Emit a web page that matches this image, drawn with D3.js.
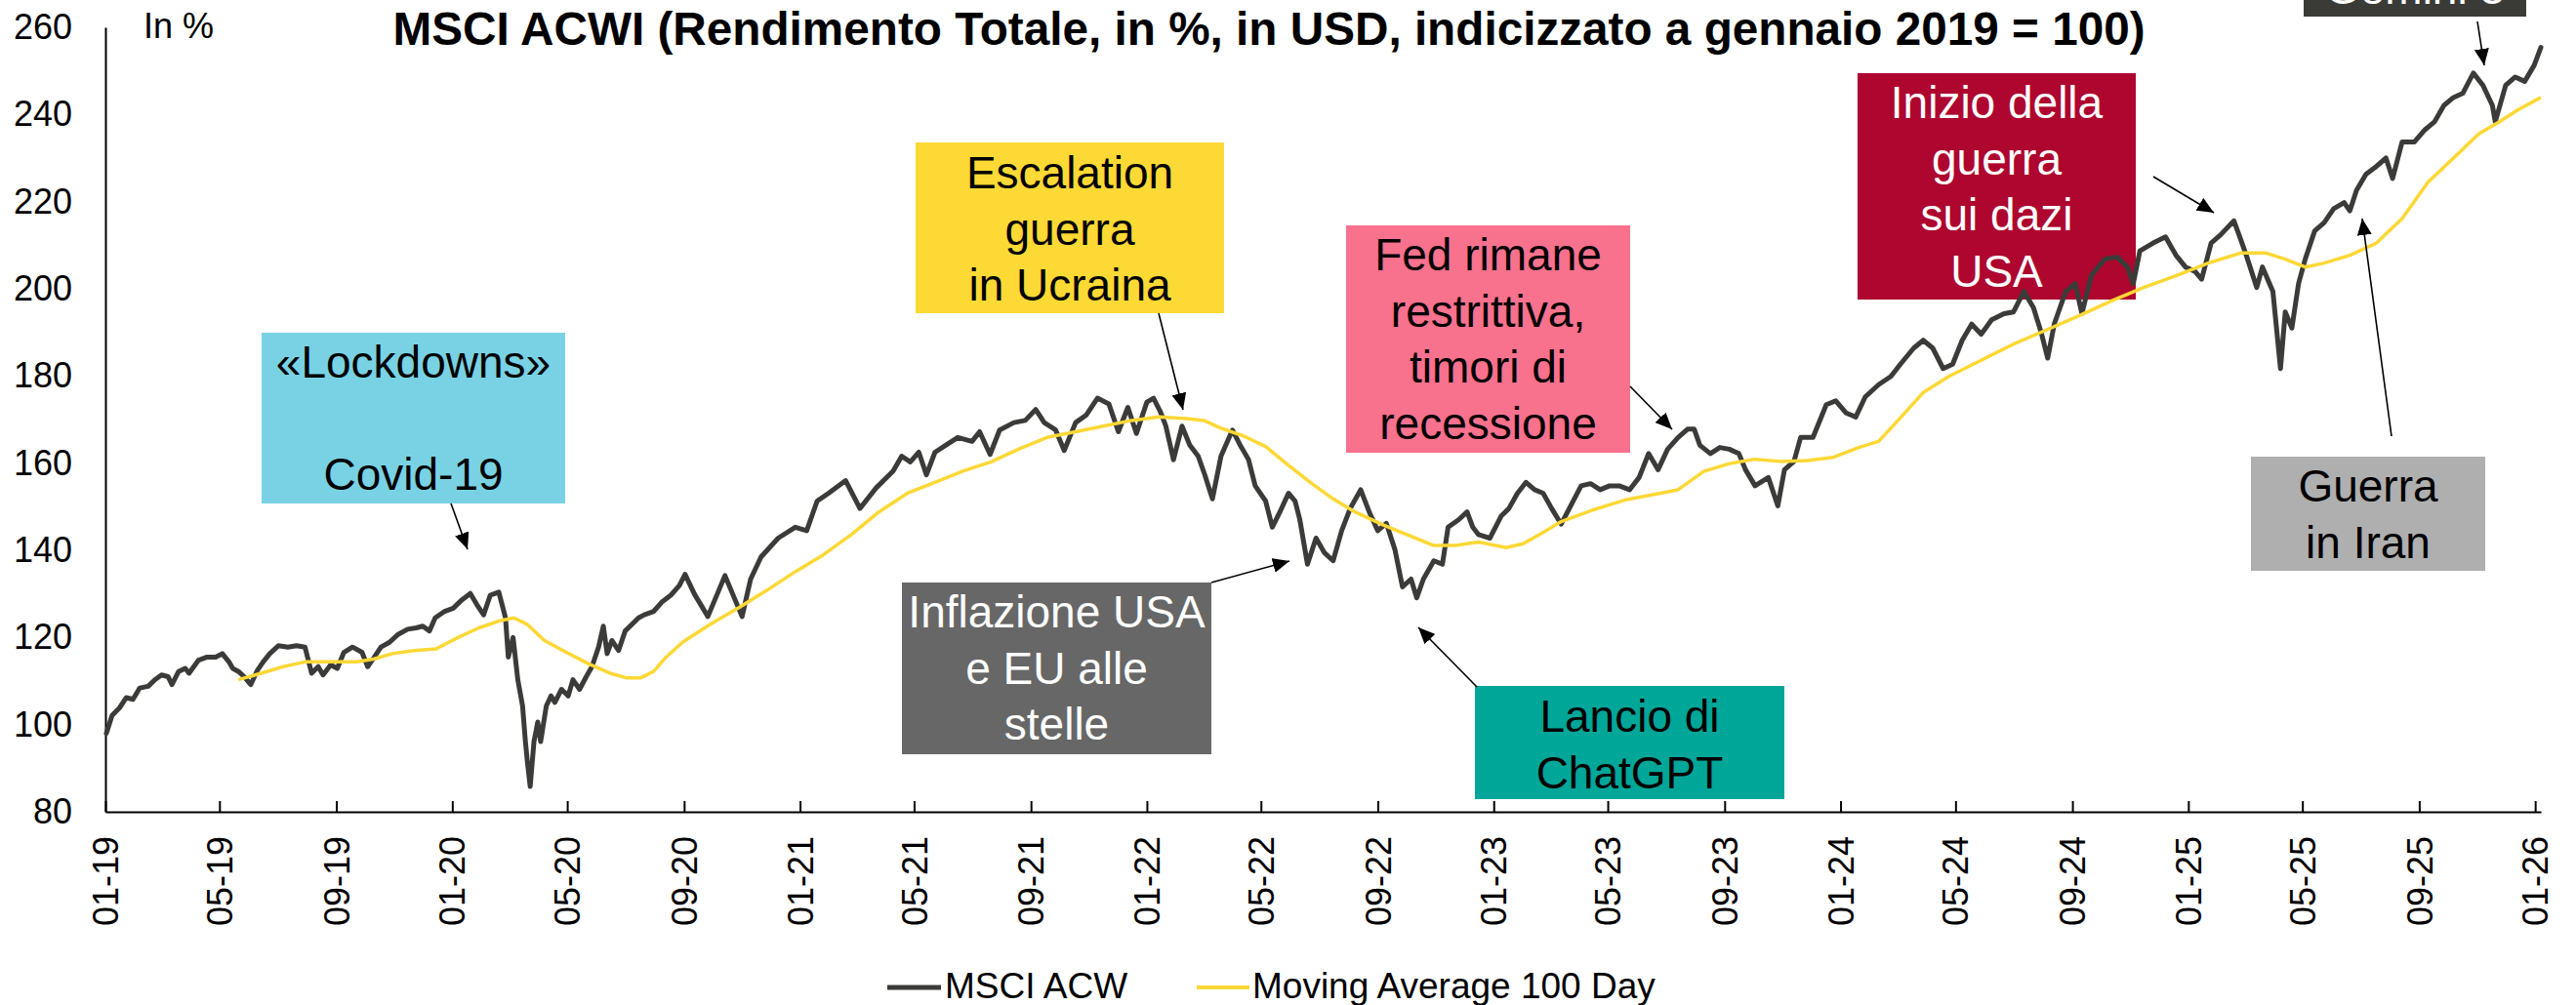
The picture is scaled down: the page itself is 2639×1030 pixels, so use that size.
<!DOCTYPE html>
<html>
<head>
<meta charset="utf-8">
<script src="https://cdn.jsdelivr.net/npm/d3@7"></script>
<style>
  html, body { margin: 0; padding: 0; background: #fff; }
  svg { display: block; font-family: "Liberation Sans", Arial, sans-serif; }
</style>
</head>
<body>
<svg id="chart" width="2639" height="1030"></svg>
<script>
// MSCI ACWI total return, USD, Jan 2019 = 100
const acwi2019 = [["01-02",98.0],["01-08",102.1],["01-16",103.9],["01-23",106.2],["01-30",105.8],["02-06",108.4],["02-15",108.8],["02-22",110.3],["03-01",111.4],["03-08",111.0],["03-12",109.2],["03-19",112.2],["03-26",112.9],["03-30",111.8],["04-09",114.8],["04-18",115.5],["04-27",115.5],["05-04",116.3],["05-11",114.4],["05-15",112.9],["05-21",112.2],["05-27",111.0],["06-03",109.2],["06-10",112.5],["06-16",114.4],["06-23",116.3],["07-02",118.1],["07-12",117.8],["07-21",118.1],["07-30",117.8],["08-06",111.8],["08-13",113.3],["08-18",111.4],["08-26",113.7],["09-02",112.9],["09-09",116.6],["09-18",117.8],["09-28",116.6],["10-04",113.3],["10-11",115.5],["10-18",117.8],["10-27",118.9],["11-05",120.7],["11-15",121.9],["11-24",122.2],["12-01",122.6],["12-08",121.5],["12-14",124.5],["12-24",126.0]];
const acwi2020 = [["01-02",126.7],["01-11",128.6],["01-20",130.1],["01-27",127.5],["02-03",125.2],["02-10",129.7],["02-19",130.4],["02-26",124.5],["02-29",115.5],["03-05",120.0],["03-10",110.3],["03-15",104.3],["03-18",96.1],["03-20",91.6],["03-23",85.8],["03-27",96.1],["03-31",100.6],["04-03",96.1],["04-09",104.3],["04-14",106.6],["04-18",105.1],["04-25",108.1],["05-02",106.6],["05-07",110.3],["05-14",108.1],["05-21",111.0],["05-27",113.3],["06-03",117.8],["06-08",122.6],["06-12",116.3],["06-17",119.3],["06-24",117.0],["07-01",121.5],["07-08",123.0],["07-15",124.5],["07-21",125.2],["07-31",126.0],["08-09",128.2],["08-18",129.7],["08-27",131.9],["09-02",134.5],["09-12",129.9],["09-26",124.8],["10-14",134.2],["11-01",124.8],["11-10",133.4],["11-21",138.5],["12-09",142.8],["12-27",145.3]];
const acwi2021 = [["01-08",144.5],["01-19",151.3],["01-31",153.1],["02-18",156.0],["03-05",149.6],["03-22",154.3],["04-09",158.2],["04-18",161.6],["04-27",160.3],["05-06",162.5],["05-14",157.3],["05-23",162.5],["06-04",164.2],["06-16",165.9],["07-01",165.0],["07-09",167.2],["07-20",162.0],["07-30",167.6],["08-14",169.3],["08-26",169.8],["09-06",172.3],["09-15",169.3],["09-27",167.6],["10-06",162.9],["10-18",169.3],["10-29",171.0],["11-10",174.9],["11-22",173.6],["12-02",167.2],["12-12",172.8],["12-21",166.8]];
const acwi2022 = [["01-01",174.0],["01-08",174.9],["01-15",171.9],["01-21",168.5],["01-29",160.8],["02-07",168.5],["02-15",164.2],["02-24",161.6],["03-03",157.3],["03-11",151.8],["03-20",161.6],["04-01",167.6],["04-09",164.2],["04-18",160.8],["04-25",154.8],["05-06",151.3],["05-13",145.3],["05-21",148.8],["05-30",153.1],["06-06",151.3],["06-11",147.0],["06-19",136.8],["06-28",142.8],["07-07",139.4],["07-16",137.6],["07-25",144.5],["08-03",149.6],["08-14",153.9],["08-23",148.8],["09-01",144.5],["09-10",146.2],["09-19",140.2],["09-27",131.6],["10-06",133.4],["10-12",129.1],["10-19",133.4],["10-30",137.6],["11-08",136.8],["11-14",145.3],["11-25",147.0],["12-04",148.8],["12-10",145.3],["12-16",143.6],["12-28",142.8]];
const acwi2023 = [["01-09",147.9],["01-17",149.6],["01-26",153.1],["02-04",155.6],["02-13",153.9],["02-22",153.1],["03-03",149.6],["03-13",146.0],["04-03",154.8],["04-13",155.3],["04-23",153.9],["05-03",154.8],["05-13",154.8],["05-24",153.9],["06-03",156.7],["06-13",162.2],["06-23",158.5],["07-03",163.2],["07-14",165.9],["07-24",167.8],["07-31",167.8],["08-06",164.1],["08-17",162.2],["08-27",163.6],["09-06",163.2],["09-16",162.2],["09-23",158.5],["10-03",154.8],["10-17",156.7],["10-27",150.2],["11-03",158.5],["11-13",160.4],["11-20",165.9],["12-03",165.9],["12-17",173.4],["12-27",174.3]];
const acwi2024 = [["01-07",171.5],["01-17",170.6],["01-27",175.2],["02-10",178.0],["02-23",179.9],["03-04",182.7],["03-18",186.4],["03-28",188.2],["04-07",186.4],["04-18",181.7],["04-28",182.7],["05-08",188.2],["05-18",191.9],["05-28",189.6],["06-08",192.9],["06-21",194.3],["07-01",194.7],["07-12",199.4],["07-22",195.7],["07-30",190.1],["08-06",184.1],["08-13",192.0],["08-25",199.4],["09-04",201.2],["09-11",194.3],["09-21",203.1],["10-05",206.8],["10-18",207.3],["10-29",205.0],["11-04",201.2],["11-11",208.7],["11-25",210.5],["12-08",211.9],["12-19",207.7],["12-29",205.0]];
const acwi2025 = [["01-08",204.0],["01-15",202.2],["01-25",210.5],["02-04",212.4],["02-18",215.6],["02-25",211.4],["03-03",207.7],["03-14",200.3],["03-20",205.0],["03-31",199.4],["04-08",181.7],["04-13",194.7],["04-20",191.0],["04-27",201.2],["05-04",206.8],["05-14",213.3],["05-24",215.2],["06-03",218.4],["06-14",219.8],["06-20",217.9],["06-27",222.6],["07-07",226.3],["07-18",228.1],["07-28",230.0],["08-04",225.3],["08-14",233.7],["08-27",233.7],["09-07",236.5],["09-17",238.3],["09-27",242.1],["10-07",243.9],["10-17",244.9],["10-28",249.5],["11-07",246.7],["11-17",242.1],["11-20",238.3],["12-01",246.7],["12-11",248.6],["12-21",247.6],["12-31",251.3]];
const acwi2026 = [["01-07",255.4]];

// 100-day moving average
const ma2019 = [["05-21",110.3],["06-14",111.8],["07-07",113.3],["07-30",114.4],["08-27",114.4],["09-23",114.4],["10-11",115.1],["10-30",116.3],["11-22",117.0],["12-15",117.4]];
const ma2020 = [["01-07",120.0],["01-29",122.2],["02-21",123.9],["03-06",124.5],["03-20",123.0],["04-07",119.3],["04-30",116.6],["05-23",114.0],["06-15",111.8],["07-03",110.7],["07-17",110.7],["07-31",112.2],["08-13",115.5],["08-31",119.0],["09-29",123.1],["10-29",126.9],["11-27",130.8],["12-27",135.1]];
const ma2021 = [["01-25",138.9],["02-24",143.6],["03-25",148.8],["04-24",153.1],["05-23",155.6],["06-22",158.2],["07-21",160.3],["08-20",163.3],["09-18",165.9],["10-18",167.2],["11-16",168.5],["12-16",169.8]];
const ma2022 = [["01-14",170.6],["02-12",170.2],["03-02",169.8],["03-20",168.0],["04-12",166.3],["05-06",163.8],["05-30",159.5],["06-22",155.6],["07-16",151.8],["08-08",148.8],["09-07",145.8],["10-06",143.2],["10-30",141.1],["11-22",141.1],["12-16",141.9]];
const ma2023 = [["01-03",141.1],["01-14",140.6],["02-01",141.5],["02-25",144.5],["03-13",146.6],["04-16",149.3],["05-20",151.6],["06-23",153.0],["07-14",153.9],["08-10",158.1],["09-06",159.9],["10-03",160.9],["10-30",160.4],["11-27",160.6],["12-24",161.3]];
const ma2024 = [["01-20",163.6],["02-10",165.0],["03-01",169.7],["03-28",176.2],["04-24",179.9],["05-28",183.6],["07-01",187.3],["08-05",190.6],["09-08",193.8],["10-11",197.1],["11-15",200.3],["12-19",203.0]];
const ma2025 = [["01-22",205.9],["02-25",208.2],["03-24",208.2],["04-13",206.8],["05-04",205.0],["05-24",205.9],["06-20",207.7],["07-18",210.5],["08-14",216.1],["09-10",224.4],["10-07",230.0],["11-03",235.6],["11-24",238.3],["12-14",241.1]];
const ma2026 = [["01-07",243.9]];

const yTicks = [80, 100, 120, 140, 160, 180, 200, 220, 240, 260];
const seriesNames = ["MSCI ACW", "Moving Average 100 Day"];
const titleText = "MSCI ACWI (Rendimento Totale, in %, in USD, indicizzato a gennaio 2019 = 100)";

// callout boxes (layout in px)
const callouts = [
  {lines: ["«Lockdowns»", "", "Covid-19"], fill: "#79d2e4", ink: "#000", box: [268, 341, 579, 516], base: 387, arrow: [[462, 516], [479, 563]]},
  {lines: ["Escalation", "guerra", "in Ucraina"], fill: "#fdd935", ink: "#000", box: [938, 146, 1254, 321], base: 193, arrow: [[1187, 321], [1212, 420]]},
  {lines: ["Fed rimane", "restrittiva,", "timori di", "recessione"], fill: "#f8718d", ink: "#000", box: [1379, 231, 1670, 464], base: 277, arrow: [[1670, 396], [1713, 440]]},
  {lines: ["Inizio della", "guerra", "sui dazi", "USA"], fill: "#ae062f", ink: "#fff", box: [1903, 75, 2188, 307], base: 121, arrow: [[2206, 181], [2268, 218]]},
  {lines: ["Guerra", "in Iran"], fill: "#afafaf", ink: "#000", box: [2306, 468, 2546, 585], base: 514, arrow: [[2450, 447], [2420, 224]]},
  {lines: ["Gemini 3"], fill: "#3a3b37", ink: "#fff", box: [2360, -70, 2588, 17], base: 4, arrow: [[2538, 22], [2545, 67]]},
  {lines: ["Inflazione USA", "e EU alle", "stelle"], fill: "#676767", ink: "#fff", box: [924, 597, 1241, 773], base: 643, arrow: [[1241, 597], [1321, 575]]},
  {lines: ["Lancio di", "ChatGPT"], fill: "#00a698", ink: "#000", box: [1511, 703, 1828, 819], base: 750, arrow: [[1513, 704], [1453, 643]]}
];

const parse = d3.timeParse("%Y-%m-%d");
function build(parts) {
  return parts.flatMap(([yr, arr]) => arr.map(([md, v]) => ({date: parse(yr + "-" + md), value: v})));
}
const acwi = build([[2019, acwi2019], [2020, acwi2020], [2021, acwi2021], [2022, acwi2022], [2023, acwi2023], [2024, acwi2024], [2025, acwi2025], [2026, acwi2026]]);
const ma = build([[2019, ma2019], [2020, ma2020], [2021, ma2021], [2022, ma2022], [2023, ma2023], [2024, ma2024], [2025, ma2025], [2026, ma2026]]);

const lineColor = "#3b3c39", maColor = "#fdd835";
const svg = d3.select("#chart");

const x = d3.scaleTime().domain([parse("2019-01-01"), parse("2026-01-07")]).range([108, 2603]);
const y = d3.scaleLinear().domain([80, 260]).range([832, 28]);

// callout boxes under the lines
const boxes = svg.append("g");
boxes.selectAll("rect").data(callouts).join("rect")
  .attr("x", d => d.box[0]).attr("y", d => d.box[1])
  .attr("width", d => d.box[2] - d.box[0]).attr("height", d => d.box[3] - d.box[1])
  .attr("fill", d => d.fill);

// y axis
const gy = svg.append("g").attr("transform", "translate(108,0)")
  .call(d3.axisLeft(y).tickValues(yTicks).tickSize(0).tickPadding(34));
gy.attr("font-family", null).attr("font-size", 36);
gy.select(".domain").attr("stroke", "#000").attr("stroke-width", 2);
gy.selectAll("text").attr("fill", "#000");

// x axis
const gx = svg.append("g").attr("transform", "translate(0,832)")
  .call(d3.axisBottom(x).ticks(d3.timeMonth.every(4)).tickFormat(d3.timeFormat("%m-%y"))
    .tickSizeInner(-11).tickSizeOuter(0));
gx.attr("font-family", null).attr("font-size", 36);
gx.select(".domain").attr("stroke", "#000").attr("stroke-width", 2);
gx.selectAll(".tick line").attr("stroke", "#000").attr("stroke-width", 2);
gx.selectAll(".tick text").attr("fill", "#000")
  .attr("transform", "rotate(-90)").attr("text-anchor", "end")
  .attr("x", -25).attr("y", 0).attr("dy", "0.35em");

// series
const line = d3.line().x(d => x(d.date)).y(d => y(d.value));
svg.append("path").datum(acwi).attr("d", line)
  .attr("fill", "none").attr("stroke", lineColor).attr("stroke-width", 5)
  .attr("stroke-linejoin", "round").attr("stroke-linecap", "round");
svg.append("path").datum(ma).attr("d", line)
  .attr("fill", "none").attr("stroke", maColor).attr("stroke-width", 3.5)
  .attr("stroke-linejoin", "round");

// callout text and arrows
svg.append("defs").append("marker").attr("id", "ah")
  .attr("viewBox", "0 0 10 10").attr("refX", 10).attr("refY", 5)
  .attr("markerWidth", 17).attr("markerHeight", 15).attr("markerUnits", "userSpaceOnUse")
  .attr("preserveAspectRatio", "none").attr("orient", "auto")
  .append("path").attr("d", "M0,0L10,5L0,10Z").attr("fill", "#000");

const labels = svg.append("g").attr("font-size", 46).attr("text-anchor", "middle");
callouts.forEach(c => {
  const cx = (c.box[0] + c.box[2]) / 2;
  c.lines.forEach((t, i) => {
    if (!t) return;
    labels.append("text").attr("x", cx).attr("y", c.base + i * 57.5).attr("fill", c.ink).text(t);
  });
  svg.append("line")
    .attr("x1", c.arrow[0][0]).attr("y1", c.arrow[0][1])
    .attr("x2", c.arrow[1][0]).attr("y2", c.arrow[1][1])
    .attr("stroke", "#000").attr("stroke-width", 1.6).attr("marker-end", "url(#ah)");
});

// title and unit
svg.append("text").attr("x", 1300).attr("y", 46).attr("text-anchor", "middle")
  .attr("font-size", 47.7).attr("font-weight", "bold").text(titleText);
svg.append("text").attr("x", 147).attr("y", 39).attr("font-size", 36).text("In %");

// legend
const legend = [
  {name: seriesNames[0], color: lineColor, w: 5, x0: 909, x1: 964, tx: 968},
  {name: seriesNames[1], color: maColor, w: 4, x0: 1226, x1: 1280, tx: 1283}
];
const lg = svg.append("g");
legend.forEach(l => {
  lg.append("line").attr("x1", l.x0).attr("x2", l.x1).attr("y1", 1012).attr("y2", 1012)
    .attr("stroke", l.color).attr("stroke-width", l.w);
  lg.append("text").attr("x", l.tx).attr("y", 1023).attr("font-size", 37).text(l.name);
});
</script>
</body>
</html>
